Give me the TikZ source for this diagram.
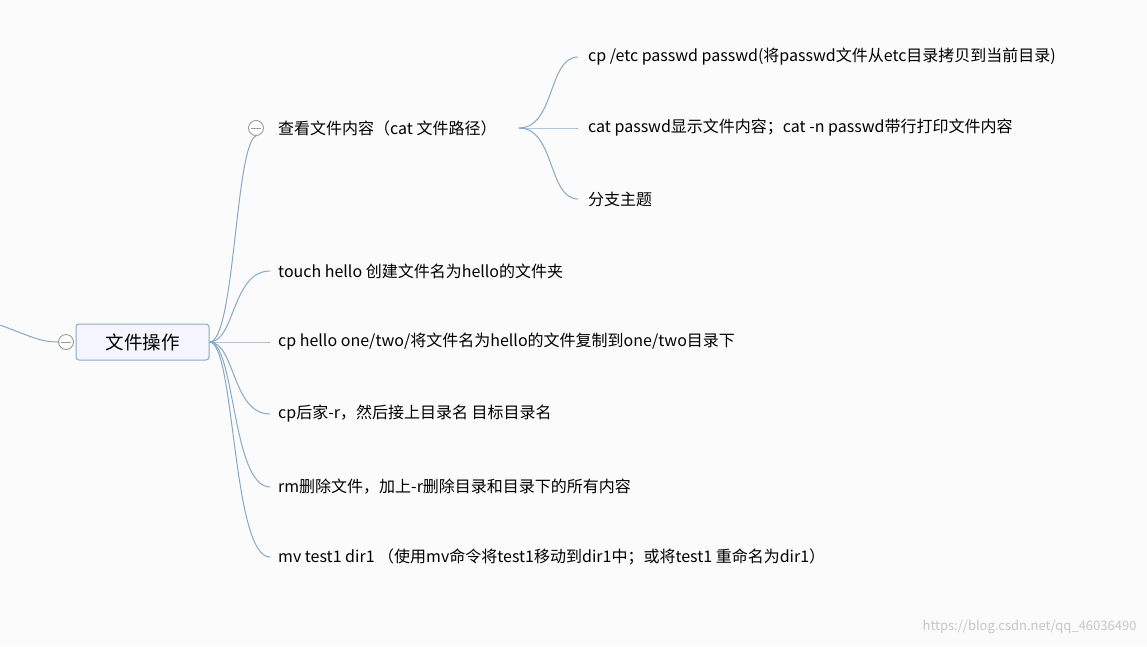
\documentclass[tikz,border=0pt]{standalone}
\usepackage{fontspec}
\setmainfont{Noto Sans CJK SC}
\begin{document}
\begin{tikzpicture}[x=1pt,y=-1pt,
  ln/.style={draw=lineblue,line width=1pt},
  leaf/.style={anchor=west,inner sep=0pt,font=\fontsize{16}{18}\selectfont},
  tog/.style={circle,draw=gray!80,line width=0.9pt,fill=white,minimum size=15pt,inner sep=0pt}]
\definecolor{lineblue}{HTML}{87A9C6}
\definecolor{bg}{HTML}{FBFBFC}
\fill[bg] (0,0) rectangle (1147,646);
\useasboundingbox (0,0) rectangle (1147,646);
\node[draw=lineblue,fill=blue!4!white,rounded corners=3pt,line width=1pt,minimum width=133pt,minimum height=36pt,font=\fontsize{18.5}{20}\selectfont] (root) at (142.5,342) {文件操作};
\node[tog] (t0) at (66,342) {};
\draw[gray!80,line width=0.9pt] (61,342) -- (71,342);
\coordinate (l0) at (0,325);
\draw[ln] (l0) .. controls (30,336) and (40,342) .. (t0.west);
\node[leaf] (c1) at (278,128) {查看文件内容（cat 文件路径）};
\node[tog] (t1) at (256,128) {};
\draw[gray!80,line width=0.9pt] (251,128) -- (261,128);
\node[leaf] (c2) at (278,271) {touch hello 创建文件名为hello的文件夹};
\node[leaf] (c3) at (278,342) {cp hello one/two/将文件名为hello的文件复制到one/two目录下};
\node[leaf] (c4) at (278,414) {cp后家-r，然后接上目录名 目标目录名};
\node[leaf] (c5) at (278,487) {rm删除文件，加上-r删除目录和目录下的所有内容};
\node[leaf] (c6) at (278,557) {mv test1 dir1 （使用mv命令将test1移动到dir1中；或将test1 重命名为dir1）};
\draw[ln] (root.east) .. controls (235,342) and (235,145) .. (t1.south);
\foreach \n in {c2,c3,c4,c5,c6}{
  \draw[ln] (root.east) .. controls (235,342) and (232,0|-\n.west) .. ([xshift=-8pt]\n.west);
}
\node[leaf] (d1) at (588,57) {cp /etc passwd passwd(将passwd文件从etc目录拷贝到当前目录)};
\node[leaf] (d2) at (588,128) {cat passwd显示文件内容；cat -n passwd带行打印文件内容};
\node[leaf] (d3) at (588,199) {分支主题};
\coordinate (s) at (519,128);
\foreach \n in {d1,d2,d3}{
  \draw[ln] (s) .. controls (555,128) and (548,0|-\n.west) .. ([xshift=-10pt]\n.west);
}
\node[anchor=east,text=gray!45,font=\fontsize{13}{15}\selectfont] (wm) at (1140,627) {https://blog.csdn.net/qq\_46036490};
\end{tikzpicture}
\end{document}
